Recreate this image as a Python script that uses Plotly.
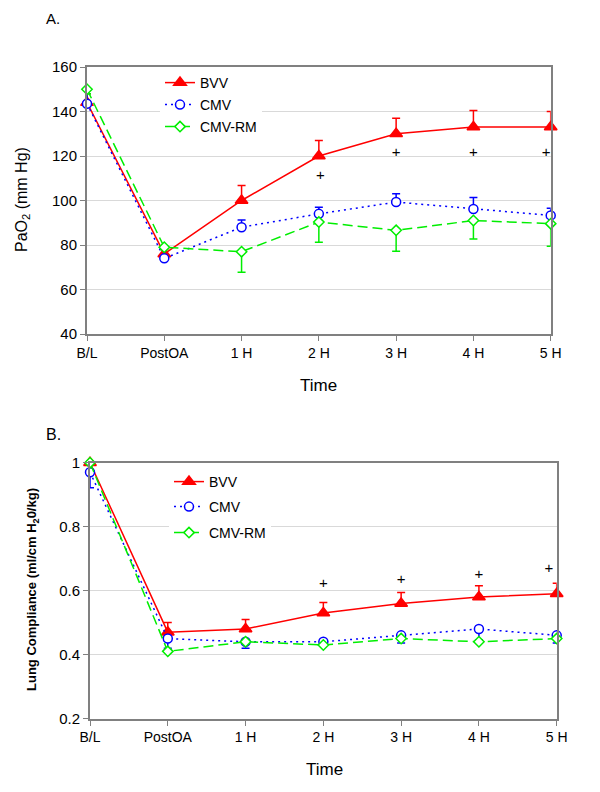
import plotly.graph_objects as go

categories = ["B/L", "PostOA", "1 H", "2 H", "3 H", "4 H", "5 H"]
xpos = [0, 1, 2, 3, 4, 5, 6]

# Panel A: PaO2 (mm Hg)
pao2_bvv = [144, 76, 100, 120, 130, 133, 133]
pao2_bvv_err = [4, 2, 6.7, 7, 7, 7.4, 7]
pao2_cmv = [143.5, 74, 88, 94, 99.3, 96.2, 93.3]
pao2_cmv_err = [6, 1, 3.2, 3, 3.7, 5.2, 3.2]
pao2_rm = [150, 79, 77, 90.3, 86.6, 91, 89.6]
pao2_rm_err = [2, 1, 9.3, 9.1, 9.4, 8.3, 10.2]
pao2_plus_x = [3.02, 4, 5, 5.94]
pao2_plus_y = [111, 121.3, 121.3, 121.3]

# Panel B: Lung compliance (ml/cm H2O/kg)
lc_bvv = [1.0, 0.47, 0.48, 0.53, 0.56, 0.58, 0.59]
lc_bvv_err = [0, 0.03, 0.03, 0.033, 0.034, 0.035, 0.033]
lc_cmv = [0.97, 0.45, 0.44, 0.44, 0.46, 0.48, 0.46]
lc_cmv_err = [0.048, 0.03, 0.02, 0.012, 0.024, 0.034, 0.024]
lc_rm = [1.0, 0.41, 0.44, 0.43, 0.45, 0.44, 0.45]
lc_plus_x = [3, 4, 5, 5.9]
lc_plus_y = [0.619, 0.631, 0.649, 0.667]

FONT = "Arial, Liberation Sans, sans-serif"
RED = "#FF0000"
BLUE = "#0000FF"
GREEN = "#00EE00"
# page body has an 8px margin; the figure is sized to fit the 600x792 window exactly
OFF = 8
W, H = 600 - 2 * OFF, 792 - 2 * OFF

def px(sx):
    return (sx - OFF) / W

def py(sy):
    return 1 - (sy - OFF) / H

fig = go.Figure()

def zeros(n):
    return [0] * n

def add_series(name, x, y, color, dash, symbol, size, filled, up, down, xa, ya, legend, width=1.5):
    err = None
    if up is not None or down is not None:
        err = dict(type="data", symmetric=False,
                   array=up if up is not None else zeros(len(y)),
                   arrayminus=down if down is not None else zeros(len(y)),
                   color=color, thickness=1.5, width=4)
    fig.add_trace(go.Scatter(
        x=x, y=y, name=name, mode="lines+markers",
        line=dict(color=color, width=width, dash=dash),
        marker=dict(symbol=symbol, size=size, color=color if filled else "white",
                    line=dict(color=color, width=1.5)),
        error_y=err, cliponaxis=False, xaxis=xa, yaxis=ya, legend=legend,
    ))

# top panel
add_series("BVV", xpos, pao2_bvv, RED, "solid", "triangle-up", 11, True, pao2_bvv_err, None, "x", "y", "legend")
add_series("CMV", xpos, pao2_cmv, BLUE, "2px,4px", "circle", 9, False, pao2_cmv_err, None, "x", "y", "legend2")
add_series("CMV-RM", xpos, pao2_rm, GREEN, "10px,5px", "diamond", 8, False, None, pao2_rm_err, "x", "y", "legend3")
fig.add_trace(go.Scatter(x=pao2_plus_x, y=pao2_plus_y, mode="text", text=["+"] * 4,
                         textfont=dict(family=FONT, size=15, color="black"),
                         showlegend=False, cliponaxis=False, xaxis="x", yaxis="y"))

# bottom panel
add_series("BVV", xpos, lc_bvv, RED, "solid", "triangle-up", 11, True, lc_bvv_err, None, "x2", "y2", "legend4")
add_series("CMV", xpos, lc_cmv, BLUE, "2px,4px", "circle", 9, False, None, lc_cmv_err, "x2", "y2", "legend5")
add_series("CMV-RM", xpos, lc_rm, GREEN, "10px,5px", "diamond", 8, False, None, None, "x2", "y2", "legend6")
fig.add_trace(go.Scatter(x=lc_plus_x, y=lc_plus_y, mode="text", text=["+"] * 4,
                         textfont=dict(family=FONT, size=15, color="black"),
                         showlegend=False, cliponaxis=False, xaxis="x2", yaxis="y2"))

axis_common = dict(showline=True, linecolor="#808080", linewidth=2, mirror=True,
                   ticks="outside", ticklen=5, tickcolor="#808080", tickwidth=1,
                   tickfont=dict(family=FONT, size=15, color="black"), zeroline=False,
                   automargin=False)
xtick_font = dict(family=FONT, size=14, color="black")

fig.update_layout(
    template="none",
    width=W, height=H, margin=dict(l=0, r=0, t=0, b=0, pad=0, autoexpand=False),
    paper_bgcolor="white", plot_bgcolor="white",
    font=dict(family=FONT, color="black"),
    xaxis=dict(domain=[px(87), px(550.7)], anchor="y", range=[0, 6],
               tickvals=xpos, ticktext=categories, showgrid=False,
               **{**axis_common, "tickfont": xtick_font}),
    yaxis=dict(domain=[py(334), py(67)], anchor="x", range=[40, 160],
               tickvals=[40, 60, 80, 100, 120, 140, 160],
               showgrid=True, gridcolor="#D9D9D9", gridwidth=1, **axis_common),
    xaxis2=dict(domain=[px(90), px(556.7)], anchor="y2", range=[0, 6],
                tickvals=xpos, ticktext=categories, showgrid=False,
                **{**axis_common, "tickfont": xtick_font}),
    yaxis2=dict(domain=[py(718.5), py(462.7)], anchor="x2", range=[0.2, 1.0],
                tickvals=[0.2, 0.4, 0.6, 0.8, 1.0], ticktext=["0.2", "0.4", "0.6", "0.8", "1"],
                showgrid=True, gridcolor="#D9D9D9", gridwidth=1, **axis_common),
)

leg_base = dict(bgcolor="white", borderwidth=0, xanchor="left", yanchor="middle",
                font=dict(family=FONT, size=14, color="black"), itemclick=False)
top_rows = [83, 105, 127]
bot_rows = [482, 507, 533]
for nm, r in zip(["legend", "legend2", "legend3"], top_rows):
    fig.update_layout({nm: dict(x=px(160), y=py(r), **leg_base)})
for nm, r in zip(["legend4", "legend5", "legend6"], bot_rows):
    fig.update_layout({nm: dict(x=px(169), y=py(r), **leg_base)})

annos = [
    dict(text="A.", x=px(53), y=1.0, yanchor="top", font=dict(size=15)),
    dict(text="B.", x=px(53), y=py(434), yanchor="middle", font=dict(size=16)),
    dict(text="Time", x=px(318), y=py(385), yanchor="middle", font=dict(size=17)),
    dict(text="Time", x=px(324), y=py(769), yanchor="middle", font=dict(size=17)),
    dict(text="PaO<sub>2</sub> (mm Hg)", x=px(22), y=py(200), yanchor="middle",
         textangle=-90, font=dict(size=16)),
    dict(text="<b>Lung Compliance (ml/cm H<sub>2</sub>0/kg)</b>", x=px(32), y=py(590),
         yanchor="middle", textangle=-90, font=dict(size=13)),
]
for a in annos:
    a["font"] = dict(family=FONT, color="black", **a["font"])
    fig.add_annotation(xref="paper", yref="paper", showarrow=False,
                       xanchor="center", **a)

fig.write_html("out.html")
